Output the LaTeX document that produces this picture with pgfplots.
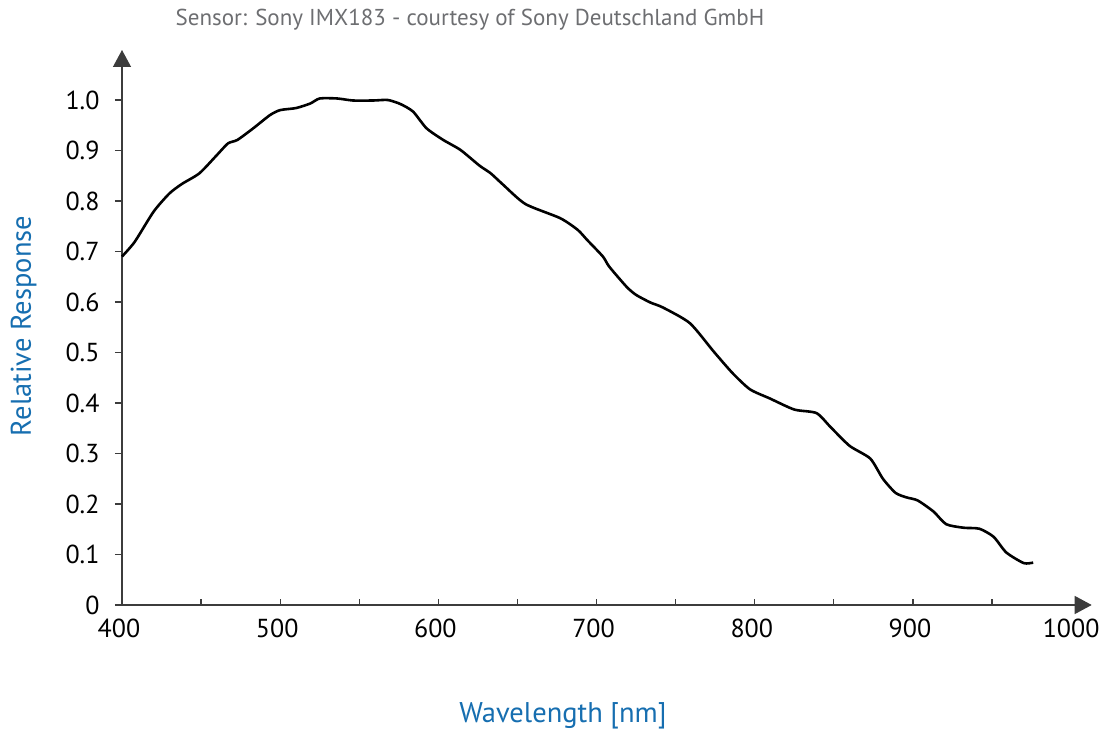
\documentclass[border=0pt]{standalone}
\usepackage{fontspec}
\setmainfont{PT Sans}
\usepackage{pgfplots}
\pgfplotsset{compat=1.18}
\usetikzlibrary{arrows.meta}
\definecolor{axgray}{HTML}{3C3C3C}
\definecolor{labblue}{HTML}{166EB0}
\definecolor{titgray}{HTML}{6D6E71}
\begin{document}
\begin{tikzpicture}
\begin{axis}[
  at={(0,0)}, anchor=south west,
  scale only axis,
  width=969.7pt, height=555pt,
  xmin=400, xmax=1013, ymin=0, ymax=1.099,
  axis lines=left,
  axis line style={draw=axgray, line width=1.3pt, -{Triangle[width=18pt,length=17pt]}},
  tick align=outside,
  major tick length=7pt,
  tick style={draw=axgray, line width=1.2pt},
  x tick style={yshift=6pt},
  xtick={400,450,...,950},
  xticklabels={400,,500,,600,,700,,800,,900,},
  extra x ticks={1000},
  extra x tick labels={1000},
  extra x tick style={major tick length=0pt, xticklabel style={yshift=-7pt, xshift=3pt}},
  ytick={0,0.1,...,1.0},
  yticklabels={0,0.1,0.2,0.3,0.4,0.5,0.6,0.7,0.8,0.9,1.0},
  /pgf/number format/assume math mode=true,
  tick label style={font=\fontsize{26}{30}\selectfont, text=black},
  xticklabel style={anchor=north, yshift=-3pt, xshift=-3pt},
  yticklabel style={anchor=east, xshift=-12pt},
  clip=false,
]
\addplot[black, line width=2.6pt, smooth, tension=0.4] coordinates {
(400,0.690) (408,0.719) (420,0.779) (430,0.815) (438,0.834) (449,0.855)
(460,0.891) (467,0.914) (473,0.921) (483,0.944) (493.5,0.970) (500,0.980)
(510,0.984) (519,0.993) (525,1.003) (536,1.003) (546,0.999) (559,0.999)
(568,1.000) (576,0.992) (584,0.977) (592.5,0.944) (603,0.921) (614,0.901)
(626,0.870) (633,0.855) (641,0.832) (655,0.794) (677,0.766) (688,0.743)
(694,0.723) (704,0.690) (708,0.670) (719,0.630) (725,0.614) (734,0.599)
(742,0.589) (759,0.558) (774,0.502) (786,0.459) (797,0.427) (809.5,0.409)
(825,0.387) (839,0.380) (848,0.352) (860,0.315) (873,0.290) (881,0.250)
(889,0.222) (896,0.213) (903,0.207) (913,0.185) (921,0.160) (932,0.153)
(942,0.151) (951,0.135) (959,0.104) (970,0.083) (976,0.084)
};
\end{axis}
\node[anchor=base, text=titgray, font=\fontsize{23}{27}\selectfont] at (348pt,579pt) {Sensor: Sony IMX183 - courtesy of Sony Deutschland GmbH};
\node[anchor=base, text=labblue, font=\fontsize{28.5}{32}\selectfont] at (441pt,-118pt) {Wavelength [nm]};
\node[anchor=base, rotate=90, text=labblue, font=\fontsize{28.5}{32}\selectfont] at (-91pt,279pt) {Relative Response};
\pgfresetboundingbox
\path[use as bounding box] (-122pt,-130pt) rectangle (983pt,605pt);
\end{tikzpicture}
\end{document}
